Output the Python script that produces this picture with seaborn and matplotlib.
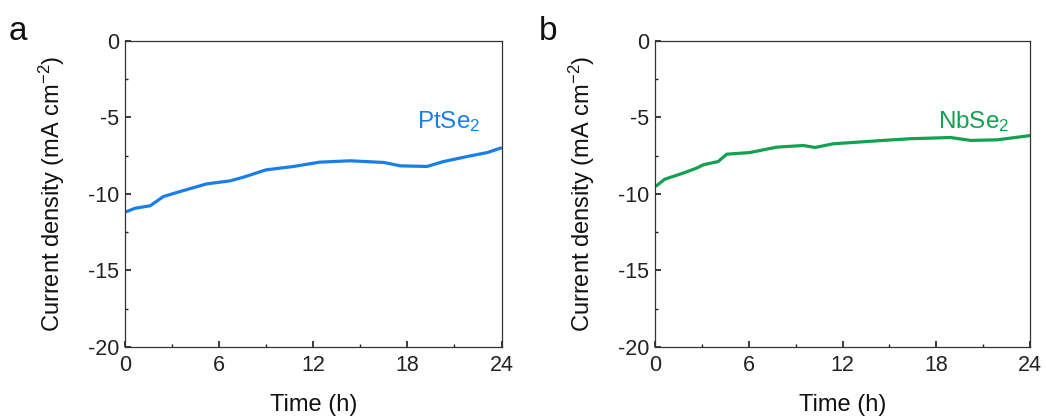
import numpy as np
import pandas as pd
import matplotlib
matplotlib.use("Agg")
import matplotlib.pyplot as plt
import seaborn as sns
from matplotlib.ticker import MultipleLocator

# datos
t_pt = [0.1, 0.64, 1.6, 2.44, 3.5, 5.2, 6.7, 7.55, 9.0, 10.75, 12.4, 14.36,
        16.5, 17.55, 19.25, 20.3, 22.0, 23.1, 23.94]
j_pt = [-11.16, -10.94, -10.78, -10.18, -9.85, -9.35, -9.15, -8.91, -8.43, -8.21,
        -7.93, -7.84, -7.95, -8.17, -8.21, -7.89, -7.52, -7.3, -7.01]

t_nb = [0.1, 0.64, 1.8, 2.67, 3.1, 4.05, 4.59, 6.08, 7.79, 9.5, 10.24, 11.4,
        14.6, 16.3, 18.9, 20.2, 21.9, 24.0]
j_nb = [-9.48, -9.04, -8.65, -8.32, -8.1, -7.89, -7.41, -7.3, -6.95, -6.84, -6.97,
        -6.73, -6.51, -6.4, -6.32, -6.51, -6.47, -6.19]

paneles = [
    ("a", "PtSe$_2$", t_pt, j_pt, "#1a7ee8"),
    ("b", "NbSe$_2$", t_nb, j_nb, "#12a150"),
]

sns.set_theme(style="ticks")
plt.rcParams['font.family'] = ['Liberation Sans', 'DejaVu Sans']
plt.rcParams['mathtext.fontset'] = 'custom'
plt.rcParams['mathtext.rm'] = 'Liberation Sans'
plt.rcParams['mathtext.it'] = 'Liberation Sans'
plt.rcParams['axes.unicode_minus'] = False

fig = plt.figure(figsize=(10.46, 4.16), dpi=100)
posiciones = [[0.1195, 0.166, 0.36, 0.736], [0.626, 0.166, 0.359, 0.736]]

for pos, (letra, nombre, t, j, color) in zip(posiciones, paneles):
    ax = fig.add_axes(pos)
    df = pd.DataFrame({"Time": t, "J": j})
    sns.lineplot(data=df, x="Time", y="J", color=color, linewidth=2.3, ax=ax)
    ax.set_xlim(0, 24)
    ax.set_ylim(-20, 0)
    ax.xaxis.set_major_locator(MultipleLocator(6))
    ax.xaxis.set_minor_locator(MultipleLocator(3))
    ax.yaxis.set_major_locator(MultipleLocator(5))
    ax.yaxis.set_minor_locator(MultipleLocator(2.5))
    ax.tick_params(which="both", direction="in", labelsize=15.5, colors="#222222",
                   top=False, right=False)
    ax.tick_params(which="major", length=4, pad=4)
    ax.tick_params(axis="x", which="major", pad=6)
    ax.tick_params(which="minor", length=2.5)
    for s in ax.spines.values():
        s.set_color("#333333")
        s.set_linewidth(0.9)
    ax.set_xlabel("Time (h)", fontsize=17, labelpad=13, color="#111111")
    ax.set_ylabel("Current density (mA cm$^{-2}$)", fontsize=17, labelpad=15, color="#111111")
    ax.text(0.945, 0.735, nombre, transform=ax.transAxes, ha="right", va="center",
            color=color, fontsize=17.5)
    ax.text(-0.31, 1.03, letra, transform=ax.transAxes, ha="left", va="center",
            fontsize=24, color="#111111")

fig.savefig("out.png", dpi=100)
